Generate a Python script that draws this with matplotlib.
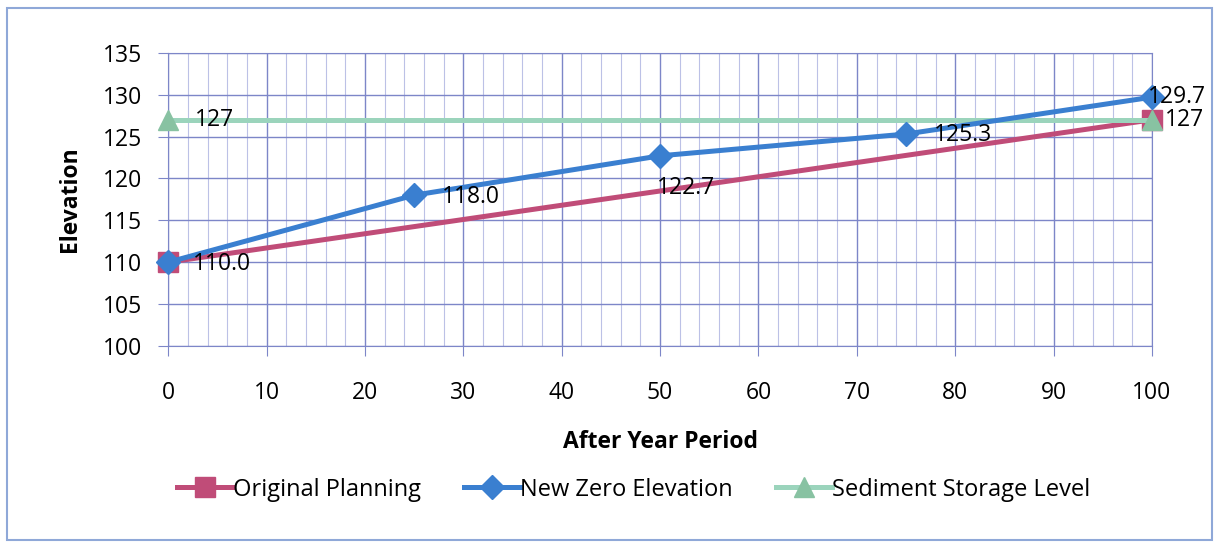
import matplotlib.pyplot as plt
from matplotlib.patches import Rectangle
from matplotlib.ticker import MultipleLocator

# === данные ===
years_orig = [0, 100]
elev_orig = [110, 127]

years_new = [0, 25, 50, 75, 100]
elev_new = [110.0, 118.0, 122.7, 125.3, 129.7]

years_sed = [0, 100]
elev_sed = [127, 127]

# смещения подписей (в пунктах), как в исходной диаграмме
new_offsets = [(18, -1), (20, -1), (-2, -23), (20, -1), (-3, 0)]

plt.rcParams["font.family"] = ["Open Sans", "DejaVu Sans"]
FS = 16.5

fig = plt.figure(figsize=(12.19, 5.44), dpi=100)
ax = fig.add_axes([0.138, 0.364, 0.807, 0.539])

# рамка вокруг всей диаграммы
fig.patches.append(Rectangle((0.006, 0.008), 0.988, 0.978, transform=fig.transFigure,
                             fill=False, edgecolor="#8fa8d8", linewidth=1.5))

ax.plot(years_orig, elev_orig, color="#c04c78", lw=3.6, marker="s", ms=15,
        label="Original Planning", zorder=3, clip_on=False)
ax.plot(years_new, elev_new, color="#3a7fd0", lw=3.6, marker="D", ms=12,
        label="New Zero Elevation", zorder=4, clip_on=False)
ax.plot(years_sed, elev_sed, color="#9bd4bc", lw=3.6, marker="^", ms=15,
        markerfacecolor="#88c2a2", markeredgecolor="#88c2a2",
        label="Sediment Storage Level", zorder=3, clip_on=False)

# подписи значений
for (x, y), off in zip(zip(years_new, elev_new), new_offsets):
    ax.annotate(f"{y:.1f}", (x, y), xytext=off, textcoords="offset points",
                ha="left", va="center", fontsize=FS, zorder=5)
ax.annotate("127", (years_sed[0], elev_sed[0]), xytext=(19, 0), textcoords="offset points",
            ha="left", va="center", fontsize=FS)
ax.annotate("127", (years_sed[1], elev_sed[1]), xytext=(9, 0), textcoords="offset points",
            ha="left", va="center", fontsize=FS)

ax.set_xlim(0, 100)
ax.set_ylim(100, 135)
ax.xaxis.set_major_locator(MultipleLocator(10))
ax.xaxis.set_minor_locator(MultipleLocator(2))
ax.yaxis.set_major_locator(MultipleLocator(5))

ax.grid(which="major", color="#7d86c8", lw=1.0)
ax.grid(which="minor", axis="x", color="#bcc1e6", lw=0.8)
ax.set_axisbelow(True)
for s in ax.spines.values():
    s.set_color("#7d86c8")

ax.tick_params(axis="both", which="major", labelsize=FS, length=7, color="#7d86c8")
ax.tick_params(axis="y", pad=12)
ax.tick_params(axis="x", pad=18)
ax.tick_params(axis="x", which="minor", length=0)

ax.set_xlabel("After Year Period", fontsize=FS, fontweight="bold", labelpad=18)
ax.set_ylabel("Elevation", fontsize=FS, fontweight="bold", labelpad=15)

ax.legend(loc="center", bbox_to_anchor=(0.473, -0.49), ncol=3, frameon=False,
          fontsize=17, handlelength=2.4, handletextpad=0.0, columnspacing=1.8)

fig.savefig("out.png", dpi=100)
